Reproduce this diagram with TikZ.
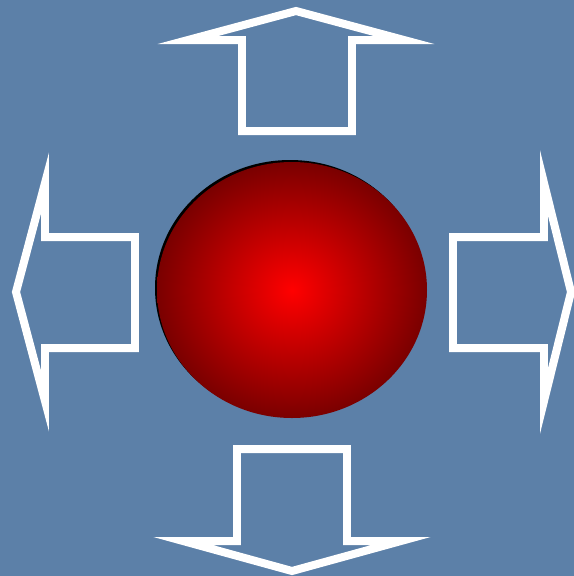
\documentclass[tikz,border=0pt]{standalone}
\usetikzlibrary{shapes.geometric}
\definecolor{slate}{RGB}{92,128,168}
\definecolor{hotred}{RGB}{255,0,0}
\definecolor{deepred}{RGB}{122,0,0}
\tikzset{
  backdrop/.style={fill=slate,draw=none},
  blockarrow/.style={draw=white,line width=0.16cm,line join=miter,miter limit=12},
  ballrim/.style={fill=black,draw=none},
  ball/.style={inner color=hotred,outer color=deepred},
}
\begin{document}
\begin{tikzpicture}[x=0.02cm,y=-0.02cm]

  \path[backdrop] (0,0) rectangle (574,576);
  \useasboundingbox (0,0) rectangle (574,576);

  % TOP: pil opp
  \draw[blockarrow] (242,131) -- (242,40) -- (188,40) -- (296,11)
    -- (404,40) -- (352,40) -- (352,131) -- cycle;

  % BOTTOM: pil ned
  \draw[blockarrow] (237,449) -- (237,541) -- (183,541) -- (292,571)
    -- (401,541) -- (347,541) -- (347,449) -- cycle;

  % LEFT: pil venstre
  \draw[blockarrow] (135,237) -- (45,237) -- (45,183) -- (16,292)
    -- (45,401) -- (45,348) -- (135,348) -- cycle;

  % RIGHT: pil hoegre
  \draw[blockarrow] (453,237) -- (544,237) -- (544,183) -- (571,292)
    -- (544,401) -- (544,348) -- (453,348) -- cycle;

  % ball i midten
  \path[ballrim] (290,288) ellipse (135 and 128);
  \shade[ball] (292,290) ellipse (135 and 128);

\end{tikzpicture}
\end{document}
